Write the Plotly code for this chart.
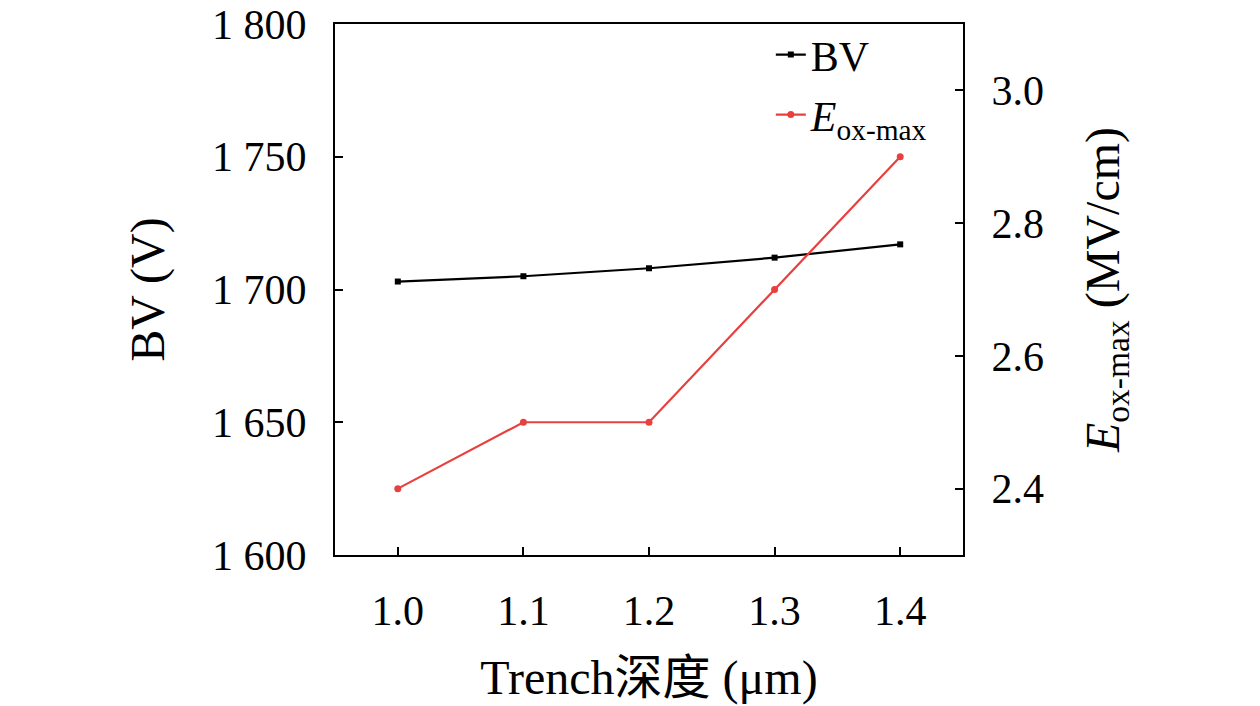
import plotly.graph_objects as go

# trench depth (um)
depth = [1.0, 1.1, 1.2, 1.3, 1.4]
# breakdown voltage (V)
bv = [1703, 1705, 1708, 1712, 1717]
# max oxide field (MV/cm)
eox = [2.4, 2.5, 2.5, 2.7, 2.9]

bv_ticks = [1600, 1650, 1700, 1750, 1800]
bv_ticktext = ['1 600', '1 650', '1 700', '1 750', '1 800']
eox_ticks = [2.4, 2.6, 2.8, 3.0]
x_ticks = [1.0, 1.1, 1.2, 1.3, 1.4]

font_family = 'Liberation Serif, Noto Sans CJK SC, serif'
red = '#e8403f'

fig = go.Figure()
fig.add_trace(go.Scatter(x=depth, y=bv, name='BV', mode='lines+markers',
                         line=dict(color='black', width=2.2),
                         marker=dict(symbol='square', size=6, color='black'),
                         legend='legend'))
fig.add_trace(go.Scatter(x=depth, y=eox, name='<i>E</i><sub>ox-max</sub>', mode='lines+markers',
                         line=dict(color=red, width=2.2),
                         marker=dict(symbol='circle', size=7, color=red),
                         yaxis='y2', legend='legend2'))

axis_style = dict(showline=True, linecolor='black', linewidth=2, ticks='inside',
                  ticklen=8, tickwidth=2, tickcolor='black', showgrid=False, zeroline=False,
                  automargin=False, tickfont=dict(size=42), ticklabelstandoff=18,
                  ticklabeloverflow='allow')

fig.update_layout(
    template='none',
    width=1260, height=706,
    margin=dict(l=335, r=297, t=24, b=151, pad=0),
    plot_bgcolor='white', paper_bgcolor='white',
    font=dict(family=font_family, size=40, color='black'),
    hovermode=False,
    xaxis=dict(range=[0.95, 1.45], tickvals=x_ticks, ticktext=['%.1f' % v for v in x_ticks],
               mirror=True, title=dict(text='Trench深度 (μm)', standoff=27), **axis_style),
    yaxis=dict(range=[1600, 1800], tickvals=bv_ticks, ticktext=bv_ticktext,
               title=dict(text='BV (V)', standoff=32), **axis_style),
    yaxis2=dict(range=[2.3, 3.1], tickvals=eox_ticks, ticktext=['%.1f' % v for v in eox_ticks],
                overlaying='y', side='right',
                title=dict(text='<i>E</i><sub>ox-max</sub> (MV/cm)', standoff=42), **axis_style),
    legend=dict(x=0.694, y=0.942, xanchor='left', yanchor='middle', bgcolor='rgba(0,0,0,0)',
                font=dict(size=42)),
    legend2=dict(x=0.694, y=0.829, xanchor='left', yanchor='middle', bgcolor='rgba(0,0,0,0)',
                 font=dict(size=42)),
    showlegend=True,
)

# drop the default 8px page margin so the figure sits at the window corner
fig.write_html('out.html', config={'displayModeBar': False},
               post_script="document.body.style.margin='0';")
